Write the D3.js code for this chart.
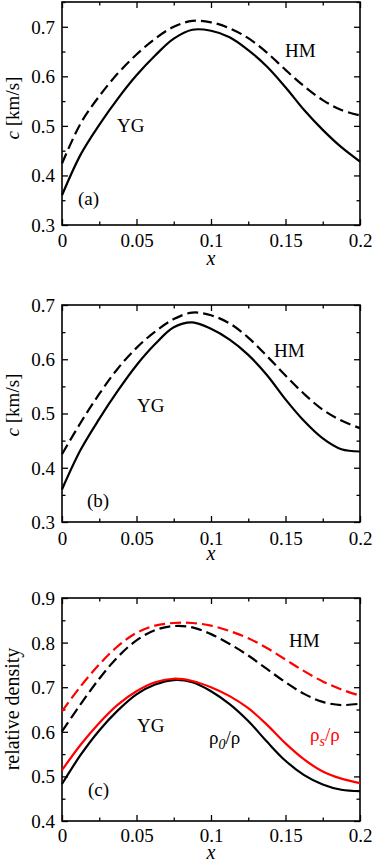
<html>
  <head>
    <style>
      body { margin: 0; background: #fff; }
    </style>
  </head>
  <body>
    <svg id="fig" width="374" height="864"></svg>
    <script src="https://cdnjs.cloudflare.com/ajax/libs/d3/7.8.5/d3.min.js"></script>
    <script>
// shared x grid for all curves
var xs = [0, 0.0125, 0.025, 0.0375, 0.05, 0.0625, 0.075, 0.0875, 0.1, 0.1125, 0.125, 0.1375, 0.15, 0.1625, 0.175, 0.1875, 0.2];

// panel (a): sound speed c [km/s]
var aYG = [0.360, 0.442, 0.502, 0.555, 0.602, 0.642, 0.676, 0.694, 0.692, 0.679, 0.653, 0.620, 0.578, 0.532, 0.492, 0.457, 0.428];
var aHM = [0.424, 0.505, 0.560, 0.606, 0.644, 0.676, 0.700, 0.712, 0.709, 0.697, 0.677, 0.648, 0.613, 0.580, 0.552, 0.532, 0.521];

// panel (b)
var bYG = [0.360, 0.433, 0.490, 0.542, 0.589, 0.628, 0.659, 0.668, 0.656, 0.636, 0.608, 0.571, 0.526, 0.486, 0.454, 0.434, 0.430];
var bHM = [0.425, 0.483, 0.536, 0.583, 0.621, 0.651, 0.674, 0.686, 0.681, 0.666, 0.640, 0.606, 0.570, 0.536, 0.507, 0.487, 0.473];

// panel (c): relative density, rho_0/rho (black) and rho_s/rho (red)
var cYGrho0 = [0.483, 0.548, 0.603, 0.648, 0.684, 0.706, 0.716, 0.711, 0.691, 0.662, 0.624, 0.578, 0.535, 0.503, 0.482, 0.470, 0.467];
var cYGrhoS = [0.514, 0.571, 0.620, 0.661, 0.691, 0.711, 0.719, 0.714, 0.700, 0.680, 0.653, 0.616, 0.574, 0.538, 0.511, 0.495, 0.485];
var cHMrho0 = [0.601, 0.662, 0.719, 0.768, 0.805, 0.828, 0.837, 0.834, 0.819, 0.797, 0.771, 0.741, 0.711, 0.685, 0.667, 0.660, 0.663];
var cHMrhoS = [0.646, 0.702, 0.751, 0.792, 0.822, 0.838, 0.844, 0.844, 0.838, 0.826, 0.810, 0.788, 0.762, 0.736, 0.713, 0.695, 0.681];

// tick labels
var xTicks = [0, 0.05, 0.1, 0.15, 0.2];
var xMinor = [0.025, 0.075, 0.125, 0.175];
var yTicksAB = [0.3, 0.4, 0.5, 0.6, 0.7];
var yMinorA = [0.35, 0.45, 0.55, 0.65, 0.75];
var yMinorB = [0.35, 0.45, 0.55, 0.65];
var yTicksC = [0.4, 0.5, 0.6, 0.7, 0.8, 0.9];
var yMinorC = [0.45, 0.55, 0.65, 0.75, 0.85];

var FONT = "'Liberation Serif', 'Times New Roman', Times, 'DejaVu Serif', serif";
var svg = d3.select("#fig").attr("font-family", FONT);
var left = 62, right = 360;

function panel(opt) {
  var x = d3.scaleLinear().domain([0, 0.2]).range([left, right]);
  var y = d3.scaleLinear().domain(opt.ydom).range([opt.bottom, opt.top]);
  var g = svg.append("g");

  // ticks on all four sides, pointing in
  function ticks(axisFn, scale, vals, size, labels, pos) {
    var ax = axisFn(scale).tickValues(vals).tickSize(-size).tickPadding(labels ? 7 : 0)
      .tickFormat(labels ? function(d) { return String(d); } : "");
    var t = g.append("g").attr("transform", pos).call(ax);
    t.attr("font-family", FONT);
    t.select(".domain").remove();
    t.selectAll("line").attr("stroke", "#000").attr("stroke-width", 1.3);
    t.selectAll("text").style("font-family", FONT).style("font-size", "19px").attr("fill", "#000");
    return t;
  }
  var bx = "translate(0," + opt.bottom + ")", tx = "translate(0," + opt.top + ")";
  var lx = "translate(" + left + ",0)", rx = "translate(" + right + ",0)";
  var xb = ticks(d3.axisBottom, x, xTicks, 6, true, bx);
  xb.selectAll("text").attr("dy", null).attr("y", opt.xlabOff);
  ticks(d3.axisBottom, x, xMinor, 3.5, false, bx);
  ticks(d3.axisTop, x, xTicks, 6, false, tx);
  ticks(d3.axisTop, x, xMinor, 3.5, false, tx);
  var yl = ticks(d3.axisLeft, y, opt.yticks, 6, true, lx);
  yl.selectAll("text").attr("dy", "0.34em");
  ticks(d3.axisLeft, y, opt.yminor, 3.5, false, lx);
  ticks(d3.axisRight, y, opt.yticks, 6, false, rx);
  ticks(d3.axisRight, y, opt.yminor, 3.5, false, rx);

  g.append("rect").attr("x", left).attr("y", opt.top)
    .attr("width", right - left).attr("height", opt.bottom - opt.top)
    .attr("fill", "none").attr("stroke", "#000").attr("stroke-width", 1.6);

  var line = d3.line().x(function(d, i) { return x(xs[i]); }).y(function(d) { return y(d); })
    .curve(d3.curveCatmullRom.alpha(0.5));
  opt.series.forEach(function(s) {
    g.append("path").attr("d", line(s.v)).attr("fill", "none")
      .attr("stroke", s.color).attr("stroke-width", 2.2)
      .attr("stroke-dasharray", s.dash ? "11,5" : null);
  });

  // axis titles
  g.append("text").attr("x", (left + right) / 2).attr("y", opt.xtitleY)
    .attr("text-anchor", "middle").style("font-family", FONT).style("font-size", "20px")
    .style("font-style", "italic").text("x");
  var yt = g.append("text").attr("transform", "translate(19," + opt.ytitleMid + ") rotate(-90)")
    .attr("text-anchor", "middle").style("font-family", FONT).style("font-size", opt.ytitleSize + "px");
  if (opt.ytitle === "c") {
    yt.append("tspan").style("font-style", "italic").text("c");
    yt.append("tspan").text(" [km/s]");
  } else {
    yt.text(opt.ytitle);
  }

  opt.notes.forEach(function(n) {
    g.append("text").attr("x", n.x).attr("y", n.y).style("font-family", FONT)
      .style("font-size", "19px").text(n.t);
  });
  return g;
}

panel({
  top: 2, bottom: 225, ydom: [0.3, 0.75], yticks: yTicksAB, yminor: yMinorA,
  xlabOff: 22, xtitleY: 265, ytitle: "c", ytitleSize: 19, ytitleMid: 108,
  series: [{ v: aYG, color: "#000" }, { v: aHM, color: "#000", dash: true }],
  notes: [{ x: 117, y: 132, t: "YG" }, { x: 285, y: 57, t: "HM" }, { x: 78, y: 205, t: "(a)" }]
});

panel({
  top: 305, bottom: 522, ydom: [0.3, 0.7], yticks: yTicksAB, yminor: yMinorB,
  xlabOff: 23, xtitleY: 560, ytitle: "c", ytitleSize: 19, ytitleMid: 405,
  series: [{ v: bYG, color: "#000" }, { v: bHM, color: "#000", dash: true }],
  notes: [{ x: 137, y: 412, t: "YG" }, { x: 274, y: 357, t: "HM" }, { x: 87, y: 507, t: "(b)" }]
});

var gc = panel({
  top: 598, bottom: 821, ydom: [0.4, 0.9], yticks: yTicksC, yminor: yMinorC,
  xlabOff: 21, xtitleY: 859, ytitle: "relative density", ytitleSize: 20, ytitleMid: 709,
  series: [
    { v: cHMrho0, color: "#000", dash: true }, { v: cHMrhoS, color: "#ff0000", dash: true },
    { v: cYGrho0, color: "#000" }, { v: cYGrhoS, color: "#ff0000" }
  ],
  notes: [{ x: 137, y: 732, t: "YG" }, { x: 289, y: 647, t: "HM" }, { x: 88, y: 796, t: "(c)" }]
});

// curve labels in panel (c)
var r0 = gc.append("text").attr("x", 209).attr("y", 744).style("font-family", FONT).style("font-size", "19px");
r0.append("tspan").text("ρ");
r0.append("tspan").attr("dy", 5).style("font-size", "14px").style("font-style", "italic").text("0");
r0.append("tspan").attr("dy", -5).text("/ρ");
var rs = gc.append("text").attr("x", 310).attr("y", 741).style("font-family", FONT).style("font-size", "19px").style("fill", "#ff0000");
rs.append("tspan").text("ρ");
rs.append("tspan").attr("dy", 5).style("font-size", "14px").style("font-style", "italic").text("s");
rs.append("tspan").attr("dy", -5).text("/ρ");
    </script>
  </body>
</html>
